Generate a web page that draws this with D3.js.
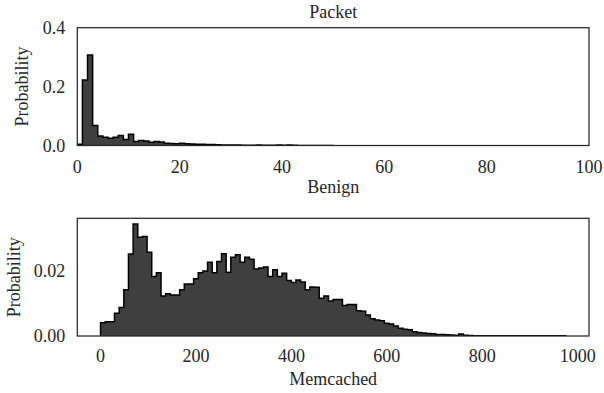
<!DOCTYPE html>
<html>
<head>
<meta charset="utf-8">
<script src="https://cdn.jsdelivr.net/npm/d3@7"></script>
<style>
  html, body { margin: 0; padding: 0; background: #fff; }
  svg { display: block; }
  text { font-family: "Liberation Serif", "Times New Roman", serif; fill: #262626; }
</style>
</head>
<body>
<svg id="chart" width="604" height="393"></svg>
<script>
// ---- data ----
const titleText = "Packet";
const topXLabel = "Benign";
const bottomXLabel = "Memcached";
const yLabel = "Probability";

// Benign packet histogram: bins of width 1 starting at 0
const benignBinStart = 0;
const benignBinWidth = 1;
const benignProb = [
  0.004, 0.222, 0.307, 0.068, 0.032, 0.028, 0.025, 0.028, 0.034, 0.020,
  0.038, 0.014, 0.017, 0.015, 0.011, 0.014, 0.012, 0.008, 0.007, 0.006,
  0.008, 0.006, 0.005, 0.004, 0.004, 0.003, 0.003, 0.0025, 0.002, 0.002,
  0.0015, 0.0015, 0.0012, 0.001, 0.001, 0.0018, 0.0012, 0.0008, 0.0008, 0.0015,
  0.001, 0.0015, 0.0005, 0.0004, 0.0003, 0.0003, 0.0002, 0.0002, 0.0002, 0.0002
];
const topXTicks = [0, 20, 40, 60, 80, 100];
const topYTicks = [0.0, 0.2, 0.4];

// Memcached packet histogram: 100 bins from 0 to 975
const memBinStart = 0;
const memBinWidth = 9.75;
const memcachedProb = [
  0.0041, 0.0044, 0.0044, 0.0070, 0.0088, 0.0142, 0.0252, 0.0345, 0.0304, 0.0306,
  0.0258, 0.0183, 0.0195, 0.0123, 0.0130, 0.0126, 0.0126, 0.0142, 0.0160, 0.0160,
  0.0176, 0.0195, 0.0200, 0.0227, 0.0195, 0.0229, 0.0253, 0.0196, 0.0242, 0.0250,
  0.0227, 0.0242, 0.0236, 0.0206, 0.0209, 0.0212, 0.0183, 0.0204, 0.0183, 0.0193,
  0.0171, 0.0165, 0.0172, 0.0166, 0.0142, 0.0151, 0.0150, 0.0116, 0.0123, 0.0108,
  0.0112, 0.0112, 0.0094, 0.0097, 0.0097, 0.0078, 0.0076, 0.0065, 0.0053, 0.0049,
  0.0047, 0.0039, 0.0037, 0.0031, 0.0024, 0.0021, 0.0019, 0.0013, 0.0011, 0.0009,
  0.0008, 0.0007, 0.0005, 0.0005, 0.0004, 0.0003, 0.0002, 0.0006, 0.0002, 0.00015,
  0.0001, 0.0001, 0.0001, 0.0001, 0.0001, 0.0001, 0.0001, 0.0001, 0.0001, 0.0001,
  0.00008, 0.00008, 0.00008, 0.00006, 0.00006, 0.00006, 0.00005, 0.00005, 0.00005, 0.00005
];
const bottomXTicks = [0, 200, 400, 600, 800, 1000];
const bottomYTicks = [0.00, 0.02];

// ---- drawing ----
const svg = d3.select("#chart");
const fillColor = "#3f3f3f";
const spineColor = "#262626";

function drawPanel(opts) {
  const { left, right, top, bottom, xDomain, yDomain, start, width, values,
          xTicks, yTicks, yFmt, xLabel, xLabelY, tickLabelY, yLabelX } = opts;
  const x = d3.scaleLinear().domain(xDomain).range([left, right]);
  const y = d3.scaleLinear().domain(yDomain).range([bottom, top]);
  const g = svg.append("g");

  const clipId = "clip" + Math.round(top);
  g.append("clipPath").attr("id", clipId)
    .append("rect").attr("x", left).attr("y", top).attr("width", right - left).attr("height", bottom - top);

  const pts = values.map((v, i) => [start + i * width, v]);
  pts.push([start + values.length * width, values[values.length - 1]]);

  const area = d3.area().curve(d3.curveStepAfter)
    .x(d => x(d[0])).y0(y(0)).y1(d => y(d[1]));
  const line = d3.line().curve(d3.curveStepAfter)
    .x(d => x(d[0])).y(d => y(d[1]));

  const hg = g.append("g").attr("clip-path", `url(#${clipId})`);
  hg.append("path").attr("d", area(pts)).attr("fill", fillColor).attr("stroke", "none");
  const first = pts[0], last = pts[pts.length - 1];
  const stepPart = line(pts).replace(/^M[^L]*/, "");
  const outline = `M${x(first[0])},${y(0)}L${x(first[0])},${y(first[1])}` + stepPart +
    `L${x(last[0])},${y(0)}`;
  hg.append("path").attr("d", outline)
    .attr("fill", "none").attr("stroke", "#000").attr("stroke-width", 1.5)
    .attr("stroke-linejoin", "miter");

  // frame
  g.append("rect").attr("x", left).attr("y", top).attr("width", right - left).attr("height", bottom - top)
    .attr("fill", "none").attr("stroke", spineColor).attr("stroke-width", 1.25);

  g.selectAll(".xt").data(xTicks).enter().append("text")
    .attr("x", d => x(d)).attr("y", tickLabelY)
    .attr("text-anchor", "middle").attr("dominant-baseline", "central")
    .attr("font-size", 18).text(d => d);
  g.selectAll(".yt").data(yTicks).enter().append("text")
    .attr("x", left - 12).attr("y", d => y(d))
    .attr("text-anchor", "end").attr("dominant-baseline", "central")
    .attr("font-size", 18).text(d => d3.format(yFmt)(d));
  g.append("text").attr("x", (left + right) / 2).attr("y", xLabelY)
    .attr("text-anchor", "middle").attr("dominant-baseline", "central")
    .attr("font-size", 18).text(xLabel);
  g.append("text").attr("transform", `translate(${yLabelX},${(top + bottom) / 2}) rotate(-90)`)
    .attr("text-anchor", "middle").attr("dominant-baseline", "central")
    .attr("font-size", 18).text(yLabel);
  return { x, y };
}

const L = 77.3, R = 589;

drawPanel({
  left: L, right: R, top: 27.7, bottom: 145.5,
  xDomain: [0, 100], yDomain: [0, 0.4],
  start: benignBinStart, width: benignBinWidth, values: benignProb,
  xTicks: topXTicks, yTicks: topYTicks, yFmt: ".1f",
  xLabel: topXLabel, xLabelY: 187, tickLabelY: 167, yLabelX: 22
});

const memMax = d3.max(memcachedProb);
const memEnd = memBinStart + memcachedProb.length * memBinWidth;
const memPad = (memEnd - memBinStart) * 0.05;
drawPanel({
  left: L, right: R, top: 218.3, bottom: 336,
  xDomain: [memBinStart - memPad, memEnd + memPad], yDomain: [0, memMax * 1.05],
  start: memBinStart, width: memBinWidth, values: memcachedProb,
  xTicks: bottomXTicks, yTicks: bottomYTicks, yFmt: ".2f",
  xLabel: bottomXLabel, xLabelY: 379, tickLabelY: 356, yLabelX: 14
});

svg.append("text").attr("x", (L + R) / 2).attr("y", 12)
  .attr("text-anchor", "middle").attr("dominant-baseline", "central")
  .attr("font-size", 18).text(titleText);
</script>
</body>
</html>
